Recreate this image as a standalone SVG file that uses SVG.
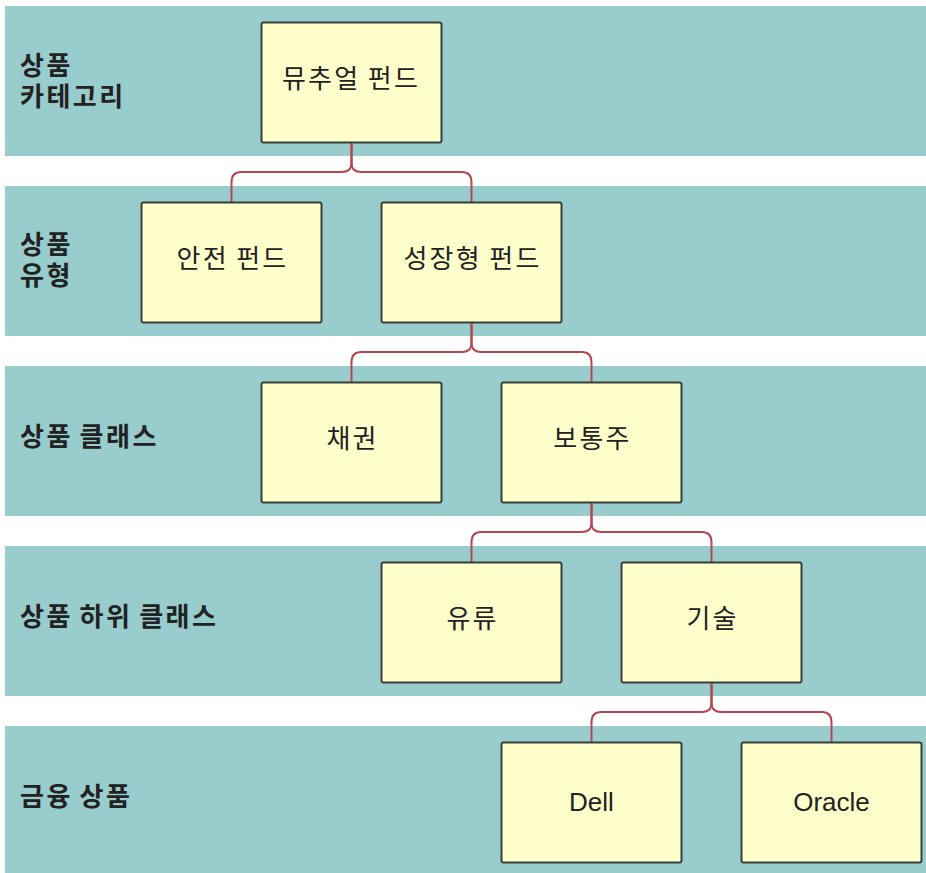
<svg xmlns="http://www.w3.org/2000/svg" width="926" height="873" viewBox="0 0 926 873">
<style>
.band{fill:#99cccc}
.box{fill:#ffffcc;stroke:#3a3f3c;stroke-width:2}
.lbl{font-family:"Liberation Sans","Noto Sans CJK KR",sans-serif;font-size:26px;font-weight:bold;fill:#222;letter-spacing:2.5px;word-spacing:-3px}
.txt{font-family:"Liberation Sans","Noto Sans CJK KR",sans-serif;font-size:26px;fill:#222;text-anchor:middle}
.ko{letter-spacing:2.2px;word-spacing:-2px}
.con{fill:none;stroke:#b3464e;stroke-width:2}
</style>
<rect width="926" height="873" fill="#ffffff"/>
<g id="bands">
<rect class="band" x="5" y="6" width="921" height="150"/>
<rect class="band" x="5" y="186" width="921" height="150"/>
<rect class="band" x="5" y="366" width="921" height="150"/>
<rect class="band" x="5" y="546" width="921" height="150"/>
<rect class="band" x="5" y="726" width="921" height="150"/>
</g>
<g id="labels">
<text class="lbl" x="20" y="75">상품</text>
<text class="lbl" x="20" y="106">카테고리</text>
<text class="lbl" x="20" y="254">상품</text>
<text class="lbl" x="20" y="285">유형</text>
<text class="lbl" x="20" y="446">상품 클래스</text>
<text class="lbl" x="20" y="626">상품 하위 클래스</text>
<text class="lbl" x="20" y="806">금융 상품</text>
</g>
<g id="connectors">
<path class="con" d="M351.5 143 V163 Q351.5 172 341.5 172 H241.5 Q231.5 172 231.5 182 V202"/>
<path class="con" d="M351.5 143 V163 Q351.5 172 361.5 172 H461.5 Q471.5 172 471.5 182 V202"/>
<path class="con" d="M471.5 323 V343 Q471.5 352 461.5 352 H361.5 Q351.5 352 351.5 362 V382"/>
<path class="con" d="M471.5 323 V343 Q471.5 352 481.5 352 H581.5 Q591.5 352 591.5 362 V382"/>
<path class="con" d="M591.5 503 V523 Q591.5 532 581.5 532 H481.5 Q471.5 532 471.5 542 V562"/>
<path class="con" d="M591.5 503 V523 Q591.5 532 601.5 532 H701.5 Q711.5 532 711.5 542 V562"/>
<path class="con" d="M711.5 683 V703 Q711.5 712 701.5 712 H601.5 Q591.5 712 591.5 722 V742"/>
<path class="con" d="M711.5 683 V703 Q711.5 712 721.5 712 H821.5 Q831.5 712 831.5 722 V742"/>
</g>
<g id="n-mutual"><rect class="box" x="261.5" y="22.5" width="180" height="120" rx="2"/><text class="txt ko" x="351" y="88">뮤추얼 펀드</text></g>
<g id="n-safe"><rect class="box" x="141.5" y="202.5" width="180" height="120" rx="2"/><text class="txt ko" x="232.5" y="268">안전 펀드</text></g>
<g id="n-growth"><rect class="box" x="381.5" y="202.5" width="180" height="120" rx="2"/><text class="txt ko" x="472.5" y="268">성장형 펀드</text></g>
<g id="n-bond"><rect class="box" x="261.5" y="382.5" width="180" height="120" rx="2"/><text class="txt ko" x="352.5" y="448">채권</text></g>
<g id="n-stock"><rect class="box" x="501.5" y="382.5" width="180" height="120" rx="2"/><text class="txt ko" x="592.5" y="448">보통주</text></g>
<g id="n-oil"><rect class="box" x="381.5" y="562.5" width="180" height="120" rx="2"/><text class="txt ko" x="472.5" y="628">유류</text></g>
<g id="n-tech"><rect class="box" x="621.5" y="562.5" width="180" height="120" rx="2"/><text class="txt ko" x="712.5" y="628">기술</text></g>
<g id="n-dell"><rect class="box" x="501.5" y="742.5" width="180" height="120" rx="2"/><text class="txt" x="591.5" y="811">Dell</text></g>
<g id="n-oracle"><rect class="box" x="741.5" y="742.5" width="180" height="120" rx="2"/><text class="txt" x="831.5" y="811">Oracle</text></g>
</svg>
